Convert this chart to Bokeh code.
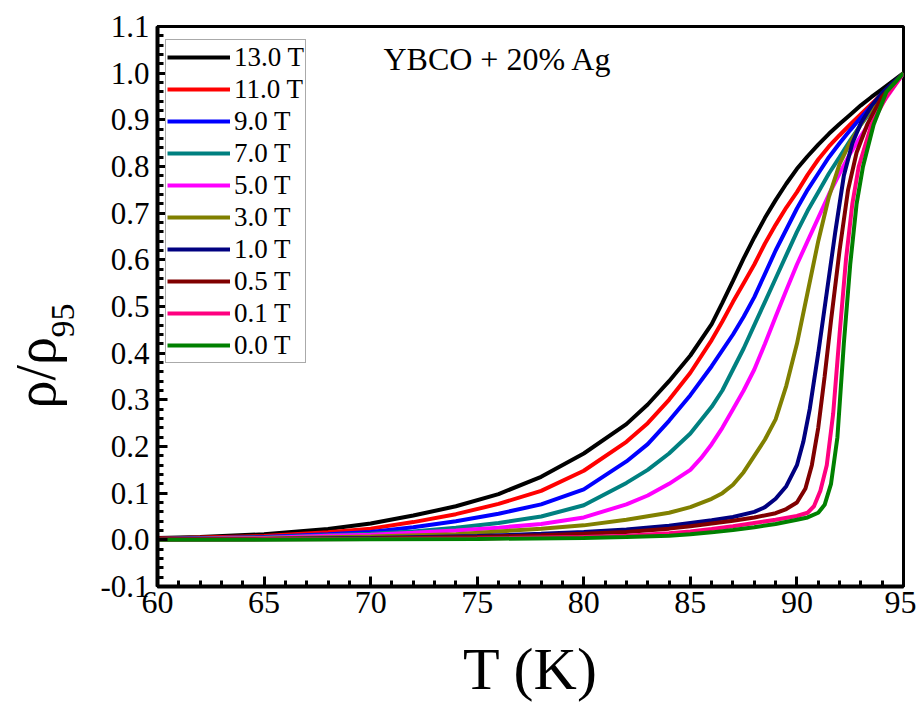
from bokeh.plotting import figure
from bokeh.models import FixedTicker, PrintfTickFormatter, Label, Legend, LegendItem, Title
from bokeh.embed import file_html
from bokeh.resources import INLINE

# ---------------- data ----------------
fields = ["13.0 T", "11.0 T", "9.0 T", "7.0 T", "5.0 T", "3.0 T", "1.0 T", "0.5 T", "0.1 T", "0.0 T"]
colors = ["#000000", "#FF0000", "#0000FF", "#008080", "#FF00FF", "#808000", "#000080", "#800000", "#FF0080", "#008000"]

T_13 = [60, 62, 65, 68, 70, 72, 74, 76, 78, 80, 82, 83, 84, 85, 86, 86.5, 87, 87.5, 88, 88.5, 89, 89.5, 90, 90.5, 91, 91.5, 92, 92.5, 93, 93.5, 94, 94.5, 95]
R_13 = [0.004, 0.006, 0.012, 0.023, 0.035, 0.052, 0.072, 0.098, 0.135, 0.185, 0.248, 0.29, 0.34, 0.395, 0.462, 0.508, 0.555, 0.603, 0.648, 0.69, 0.728, 0.763, 0.795, 0.822, 0.847, 0.87, 0.891, 0.911, 0.931, 0.949, 0.966, 0.983, 1.0]

T_11 = [60, 65, 68, 70, 72, 74, 76, 78, 80, 82, 83, 84, 85, 86, 86.5, 87, 87.5, 88, 88.5, 89, 89.5, 90, 90.5, 91, 91.5, 92, 92.5, 93, 94, 95]
R_11 = [0.003, 0.008, 0.016, 0.024, 0.038, 0.055, 0.077, 0.105, 0.148, 0.21, 0.25, 0.30, 0.358, 0.428, 0.468, 0.51, 0.55, 0.59, 0.635, 0.675, 0.712, 0.745, 0.782, 0.815, 0.843, 0.867, 0.89, 0.912, 0.956, 1.0]

T_9 = [60, 65, 68, 70, 72, 74, 76, 78, 80, 82, 83, 84, 85, 86, 87, 87.5, 88, 88.5, 89, 89.5, 90, 90.5, 91, 91.5, 92, 92.5, 93, 94, 95]
R_9 = [0.002, 0.006, 0.012, 0.017, 0.027, 0.040, 0.056, 0.076, 0.108, 0.168, 0.205, 0.255, 0.31, 0.372, 0.44, 0.478, 0.52, 0.57, 0.62, 0.665, 0.71, 0.75, 0.785, 0.82, 0.85, 0.878, 0.905, 0.955, 1.0]

T_7 = [60, 65, 68, 70, 72, 74, 76, 78, 80, 82, 83, 84, 85, 86, 86.5, 87, 87.5, 88, 88.5, 89, 89.5, 90, 90.5, 91, 91.5, 92, 92.5, 93, 94, 95]
R_7 = [0.002, 0.005, 0.010, 0.013, 0.018, 0.026, 0.036, 0.050, 0.074, 0.122, 0.15, 0.185, 0.228, 0.285, 0.32, 0.365, 0.41, 0.46, 0.51, 0.56, 0.61, 0.66, 0.705, 0.745, 0.785, 0.82, 0.856, 0.89, 0.95, 1.0]

T_5 = [60, 65, 68, 70, 72, 74, 76, 78, 80, 82, 83, 84, 85, 85.5, 86, 86.5, 87, 87.5, 88, 88.5, 89, 89.5, 90, 90.5, 91, 91.5, 92, 92.5, 93, 93.5, 94, 95]
R_5 = [0.001, 0.004, 0.009, 0.011, 0.015, 0.020, 0.026, 0.034, 0.048, 0.076, 0.095, 0.12, 0.15, 0.175, 0.205, 0.24, 0.28, 0.32, 0.365, 0.42, 0.478, 0.535, 0.59, 0.64, 0.69, 0.74, 0.785, 0.828, 0.865, 0.9, 0.935, 1.0]

T_3 = [60, 65, 70, 74, 76, 78, 80, 82, 84, 85, 86, 86.5, 87, 87.5, 88, 88.5, 89, 89.5, 90, 90.5, 91, 91.5, 92, 92.5, 93, 93.5, 94, 95]
R_3 = [0.001, 0.003, 0.007, 0.012, 0.018, 0.024, 0.031, 0.043, 0.058, 0.07, 0.088, 0.1, 0.118, 0.145, 0.18, 0.215, 0.258, 0.33, 0.42, 0.53, 0.64, 0.735, 0.805, 0.852, 0.89, 0.925, 0.955, 1.0]

T_1 = [60, 65, 70, 75, 78, 80, 82, 84, 85, 86, 87, 88, 88.5, 89, 89.5, 90, 90.3, 90.6, 91, 91.4, 91.8, 92.2, 92.6, 93, 93.5, 94, 95]
R_1 = [0.001, 0.002, 0.004, 0.008, 0.013, 0.017, 0.022, 0.030, 0.036, 0.042, 0.049, 0.06, 0.07, 0.088, 0.115, 0.16, 0.21, 0.28, 0.40, 0.53, 0.66, 0.78, 0.85, 0.893, 0.93, 0.958, 1.0]

T_05 = [60, 65, 70, 75, 78, 80, 82, 84, 85, 86, 87, 88, 89, 89.5, 90, 90.4, 90.7, 91, 91.3, 91.6, 92, 92.4, 92.8, 93.3, 94, 95]
R_05 = [0.001, 0.002, 0.003, 0.006, 0.010, 0.013, 0.017, 0.024, 0.029, 0.035, 0.041, 0.048, 0.057, 0.066, 0.08, 0.11, 0.16, 0.24, 0.35, 0.47, 0.62, 0.75, 0.83, 0.89, 0.95, 1.0]

T_01 = [60, 65, 70, 75, 80, 82, 84, 85, 86, 87, 88, 89, 90, 90.5, 90.8, 91.1, 91.4, 91.7, 92, 92.3, 92.6, 92.9, 93.5, 94.2, 95]
R_01 = [0.0, 0.001, 0.002, 0.003, 0.006, 0.009, 0.014, 0.018, 0.023, 0.029, 0.036, 0.043, 0.051, 0.058, 0.072, 0.105, 0.16, 0.27, 0.44, 0.60, 0.72, 0.80, 0.89, 0.95, 1.0]

T_00 = [60, 65, 70, 75, 80, 82, 84, 85, 86, 87, 88, 89, 90, 90.5, 91, 91.3, 91.6, 91.9, 92.2, 92.5, 92.8, 93.1, 93.6, 94.2, 95]
R_00 = [0.0, 0.0, 0.001, 0.002, 0.004, 0.006, 0.009, 0.012, 0.016, 0.021, 0.027, 0.034, 0.043, 0.048, 0.058, 0.075, 0.12, 0.22, 0.42, 0.59, 0.72, 0.80, 0.89, 0.96, 1.0]

temps = [T_13, T_11, T_9, T_7, T_5, T_3, T_1, T_05, T_01, T_00]
rhos = [R_13, R_11, R_9, R_7, R_5, R_3, R_1, R_05, R_01, R_00]

x_ticks = [60, 65, 70, 75, 80, 85, 90, 95]
x_minor = list(range(60, 96))
y_ticks = [-0.1, 0.0, 0.1, 0.2, 0.3, 0.4, 0.5, 0.6, 0.7, 0.8, 0.9, 1.0, 1.1]
y_minor = [round(-0.1 + 0.02 * i, 2) for i in range(61)]

title_text = "YBCO + 20% Ag"
x_title = "T (K)"
y_title_main = "ρ/ρ"
y_title_sub = "95"

FONT = "Liberation Serif"

# ---------------- figure ----------------
p = figure(width=916, height=705, x_range=(60, 95), y_range=(-0.1, 1.1),
           output_backend="svg", toolbar_location=None,
           min_border_left=157, min_border_right=13, min_border_top=26, min_border_bottom=119)
p.background_fill_color = "white"
p.border_fill_color = "white"
p.xgrid.visible = False
p.ygrid.visible = False
p.outline_line_color = "black"
p.outline_line_width = 3
p.outline_line_alpha = 1.0

for ax in (p.xaxis[0], p.yaxis[0]):
    ax.axis_line_width = 4
    ax.axis_line_color = "black"
    ax.major_tick_in = 10
    ax.major_tick_out = 0
    ax.minor_tick_in = 6
    ax.minor_tick_out = 0
    ax.major_tick_line_width = 3
    ax.minor_tick_line_width = 3
    ax.major_tick_line_color = "black"
    ax.minor_tick_line_color = "black"
    ax.major_label_text_font = FONT
    ax.major_label_text_color = "black"

p.xaxis[0].ticker = FixedTicker(ticks=x_ticks, minor_ticks=x_minor)
p.yaxis[0].ticker = FixedTicker(ticks=y_ticks, minor_ticks=y_minor)
p.yaxis[0].formatter = PrintfTickFormatter(format="%.1f")
p.xaxis[0].major_label_text_font_size = "32px"
p.yaxis[0].major_label_text_font_size = "31px"
p.xaxis[0].major_label_standoff = 5
p.yaxis[0].major_label_standoff = 8

p.xaxis[0].axis_label = x_title
p.xaxis[0].axis_label_text_font = FONT
p.xaxis[0].axis_label_text_font_size = "60px"
p.xaxis[0].axis_label_text_font_style = "normal"
p.xaxis[0].axis_label_text_color = "black"
p.xaxis[0].axis_label_standoff = 20

items = []
for lab, col, tx, ry in zip(fields, colors, temps, rhos):
    r = p.line(tx, ry, line_color=col, line_width=4)
    items.append(LegendItem(label=lab, renderers=[r]))

legend = Legend(items=items, location=(8, 223))
legend.label_text_font = FONT
legend.label_text_font_size = "27px"
legend.label_text_color = "black"
legend.label_height = 32
legend.glyph_height = 32
legend.glyph_width = 63
legend.label_standoff = 4
legend.padding = 1
legend.spacing = 0
legend.margin = 0
legend.border_line_color = "#555555"
legend.border_line_width = 1.5
legend.background_fill_color = "white"
legend.background_fill_alpha = 1.0
p.add_layout(legend, "center")

# ---------------- texts ----------------
p.add_layout(Label(x=70.6, y=1.03, text=title_text, text_font=FONT, text_font_size="32px",
                   text_color="black", text_align="left", text_baseline="alphabetic"))

# y-axis title built from two stacked side titles: "ρ/ρ" with subscript "95"
t_sub = Title(text=y_title_sub, align="left", vertical_align="bottom", offset=249, standoff=48,
              text_font=FONT, text_font_size="34px", text_font_style="normal", text_color="black")
p.add_layout(t_sub, "left")
t_main = Title(text=y_title_main, align="left", vertical_align="bottom", offset=178, standoff=-82,
               text_font=FONT, text_font_size="56px", text_font_style="normal", text_color="black")
p.add_layout(t_main, "left")

open("out.html", "w").write(file_html(p, INLINE))
